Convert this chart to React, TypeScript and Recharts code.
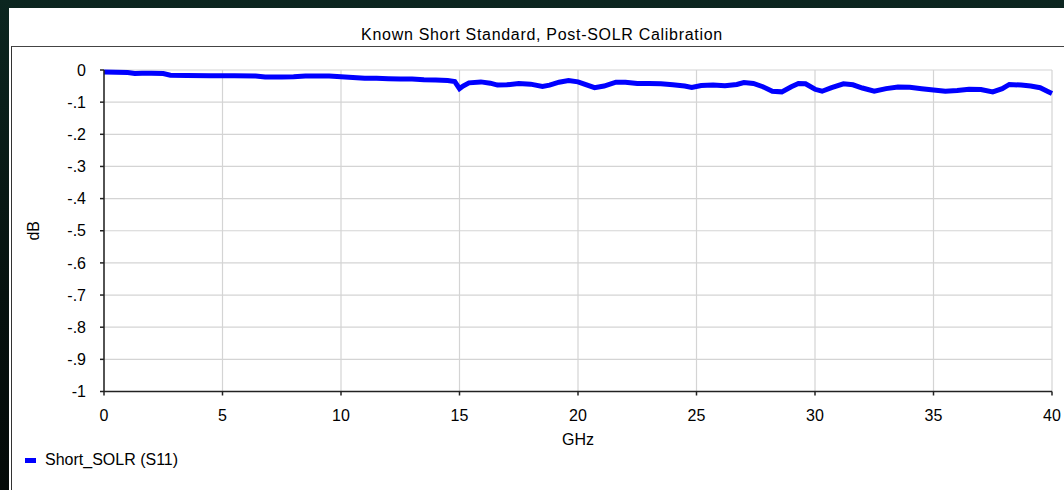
import React from 'react';
import { LineChart, Line, XAxis, YAxis, CartesianGrid, Label } from 'recharts';

const chartTitle = 'Known Short Standard, Post-SOLR Calibration';
const seriesName = 'Short_SOLR (S11)';
const xAxisTitle = 'GHz';
const yAxisTitle = 'dB';

const freqGHz = [
  0, 0.5, 1.0, 1.3, 1.6, 2.0, 2.5, 2.8, 3.5, 4.5, 5.5, 6.4, 6.8, 7.5, 8.0, 8.5, 9.5, 10.0, 10.5, 11.0,
  11.5, 12.0, 12.5, 13.0, 13.5, 14.0, 14.5, 14.8, 15.0, 15.15, 15.4, 15.9, 16.3, 16.6, 17.0, 17.5, 18.0, 18.5, 18.8, 19.2,
  19.6, 20.0, 20.3, 20.7, 21.1, 21.6, 22.0, 22.5, 23.0, 23.5, 24.0, 24.5, 24.8, 25.2, 25.7, 26.2, 26.7, 27.0, 27.4, 27.8,
  28.2, 28.6, 29.0, 29.3, 29.6, 30.0, 30.3, 30.7, 31.2, 31.6, 32.0, 32.5, 33.0, 33.5, 34.0, 34.5, 35.0, 35.5, 36.0, 36.5,
  37.0, 37.5, 37.9, 38.2, 38.7, 39.1, 39.5, 39.8, 40.0,
];

const s11dB = [
  -0.006, -0.007, -0.008, -0.011, -0.010, -0.010, -0.011, -0.016, -0.017, -0.018, -0.018, -0.019, -0.022, -0.022, -0.021, -0.019, -0.019, -0.021, -0.023, -0.026,
  -0.026, -0.027, -0.028, -0.028, -0.030, -0.031, -0.033, -0.036, -0.058, -0.050, -0.040, -0.037, -0.041, -0.047, -0.046, -0.042, -0.044, -0.051, -0.047, -0.038,
  -0.033, -0.037, -0.045, -0.055, -0.050, -0.038, -0.038, -0.042, -0.042, -0.043, -0.046, -0.050, -0.054, -0.048, -0.047, -0.049, -0.045, -0.039, -0.042, -0.052,
  -0.066, -0.068, -0.052, -0.042, -0.043, -0.060, -0.066, -0.055, -0.043, -0.046, -0.056, -0.066, -0.058, -0.053, -0.054, -0.058, -0.062, -0.066, -0.064, -0.060,
  -0.061, -0.068, -0.058, -0.045, -0.047, -0.050, -0.055, -0.066, -0.073,
];

const xTicks = [0, 5, 10, 15, 20, 25, 30, 35, 40];
const yTicks = [0, -0.1, -0.2, -0.3, -0.4, -0.5, -0.6, -0.7, -0.8, -0.9, -1];
const yTickLabels = ['0', '-.1', '-.2', '-.3', '-.4', '-.5', '-.6', '-.7', '-.8', '-.9', '-1'];

const data = freqGHz.map((f, i) => ({ f, v: s11dB[i] }));

const FONT = '"Liberation Sans", Arial, sans-serif';
const tickStyle = { fill: '#000', fontSize: 16, fontFamily: FONT };

export default function App() {
  return (
    <div
      style={{
        position: 'fixed',
        left: 0,
        top: 0,
        width: 1064,
        height: 490,
        overflow: 'hidden',
        background: 'linear-gradient(180deg, #0c2620 0%, #06120f 60%, #040a08 100%)',
        fontFamily: FONT,
      }}
    >
      <div style={{ position: 'absolute', left: 9, top: 8, right: 0, bottom: 0, background: '#fff' }} />
      <div
        style={{
          position: 'absolute',
          left: 11,
          top: 46,
          width: 1070,
          height: 460,
          borderTop: '1.5px solid #444',
          borderLeft: '1.5px solid #333',
        }}
      />
      <div
        style={{
          position: 'absolute',
          left: 9,
          width: 1066,
          top: 26.5,
          textAlign: 'center',
          fontSize: 16,
          lineHeight: '16px',
          letterSpacing: 0.7,
          color: '#000',
          whiteSpace: 'nowrap',
        }}
      >
        {chartTitle}
      </div>
      <div style={{ position: 'absolute', left: 0, top: 0 }}>
        <LineChart
          width={1064}
          height={490}
          data={data}
          margin={{ top: 70, right: 12, left: 0, bottom: 38.5 }}
        >
          <CartesianGrid stroke="#d4d4d4" strokeWidth={1.2} />
          <XAxis
            dataKey="f"
            type="number"
            domain={[0, 40]}
            ticks={xTicks}
            interval={0}
            height={60}
            tickSize={4}
            tickMargin={14}
            tick={tickStyle}
            axisLine={{ stroke: '#222', strokeWidth: 1.5 }}
            tickLine={{ stroke: '#222', strokeWidth: 1.5 }}
          >
            <Label
              value={xAxisTitle}
              position="insideBottom"
              offset={6.5}
              style={{ fill: '#000', fontSize: 16, fontFamily: FONT }}
            />
          </XAxis>
          <XAxis
            xAxisId="top"
            orientation="top"
            type="number"
            domain={[0, 40]}
            height={0}
            tick={false}
            tickLine={false}
            axisLine={{ stroke: '#333', strokeWidth: 1.5 }}
          />
          <YAxis
            type="number"
            domain={[-1, 0]}
            ticks={yTicks}
            interval={0}
            width={104}
            tickSize={4}
            tickMargin={14}
            tick={tickStyle}
            tickFormatter={(v: number) => {
              const i = yTicks.findIndex((t) => Math.abs(t - v) < 1e-9);
              return i >= 0 ? yTickLabels[i] : String(v);
            }}
            axisLine={{ stroke: '#222', strokeWidth: 1.5 }}
            tickLine={{ stroke: '#222', strokeWidth: 1.5 }}
          >
            <Label
              content={(props: any) => {
                const vb = props.viewBox || { x: 0, y: 0, width: 0, height: 0 };
                const cx = vb.x + 33;
                const cy = vb.y + vb.height / 2;
                return (
                  <text
                    x={cx}
                    y={cy}
                    transform={`rotate(-90 ${cx} ${cy})`}
                    textAnchor="middle"
                    dominantBaseline="central"
                    style={{ fill: '#000', fontSize: 16, fontFamily: FONT }}
                  >
                    {yAxisTitle}
                  </text>
                );
              }}
            />
          </YAxis>
          <YAxis
            yAxisId="right"
            orientation="right"
            type="number"
            domain={[-1, 0]}
            width={0}
            tick={false}
            tickLine={false}
            axisLine={{ stroke: '#333', strokeWidth: 1.5 }}
          />
          <Line
            type="linear"
            dataKey="v"
            name={seriesName}
            stroke="#0000ff"
            strokeWidth={5}
            dot={false}
            activeDot={false}
            isAnimationActive={false}
          />
        </LineChart>
      </div>
      <div style={{ position: 'absolute', left: 25, top: 458, width: 11, height: 5, background: '#0000ff' }} />
      <div
        style={{
          position: 'absolute',
          left: 45,
          top: 451.5,
          fontSize: 16,
          lineHeight: '16px',
          color: '#000',
          whiteSpace: 'nowrap',
        }}
      >
        {seriesName}
      </div>
    </div>
  );
}
